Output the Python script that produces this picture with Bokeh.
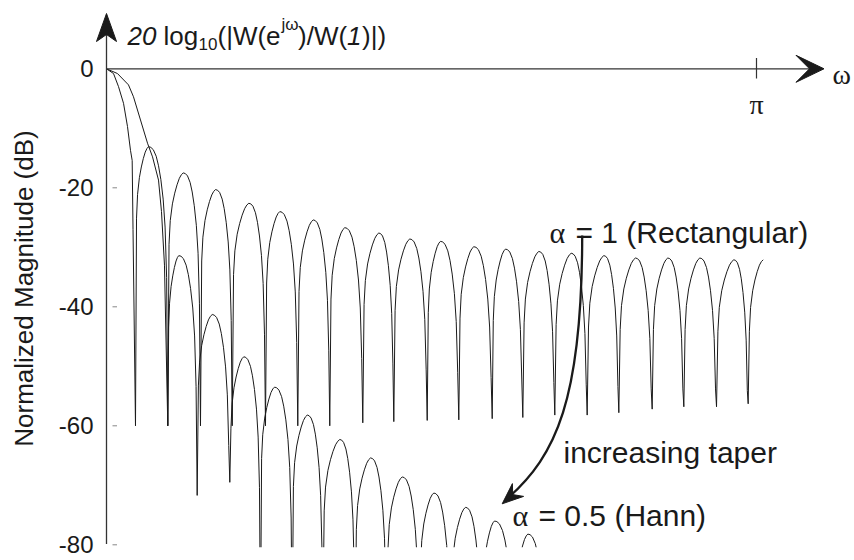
import math
from bokeh.plotting import figure
from bokeh.models import Range1d
from bokeh.core.properties import value
from bokeh.embed import file_html
from bokeh.resources import INLINE

# ---------------- data: omega in units of pi, magnitude in dB ----------------
rect_main_w = [0.0, 0.0108, 0.0185, 0.0262, 0.0323, 0.0369, 0.0395, 0.0408]
rect_main_db = [0.0, -0.8, -3.0, -5.8, -9.7, -13.7, -15.4, -27.0]
rect_null_w = [0.0446, 0.0943, 0.1446, 0.1934, 0.2446, 0.2943, 0.3435, 0.3943, 0.4420, 0.4934,
               0.5420, 0.5934, 0.6405, 0.6897, 0.7395, 0.7882, 0.8395, 0.8882, 0.9385, 0.9872]
rect_null_db = [-60.0, -60.0, -60.0, -60.0, -60.0, -60.0, -60.0, -59.5, -59.3, -59.1,
                -59.0, -58.8, -58.6, -58.2, -58.2, -57.8, -57.2, -56.8, -56.8, -56.3]
rect_peak_w = [0.0646, 0.1180, 0.1677, 0.2189, 0.2666, 0.3180, 0.3666, 0.4189, 0.4666, 0.5138,
               0.5651, 0.6138, 0.6651, 0.7149, 0.7651, 0.8138, 0.8635, 0.9128, 0.9651]
rect_peak_db = [-13.1, -17.5, -20.3, -22.6, -24.0, -25.4, -26.7, -27.6, -28.6, -29.0,
                -29.9, -30.3, -30.7, -31.0, -31.4, -31.8, -31.8, -31.8, -32.1]
rect_end_w = 1.0103
rect_end_db = -32.1

hann_main_w = [0.0, 0.0169, 0.0338, 0.0415, 0.0523, 0.0631, 0.0708, 0.0800, 0.0846, 0.0892]
hann_main_db = [0.0, -0.8, -2.7, -4.7, -8.6, -12.5, -14.8, -18.7, -24.0, -33.0]
hann_null_w = [0.0943, 0.1395, 0.1897, 0.2369, 0.2857, 0.3328, 0.3825, 0.4312, 0.4815, 0.5297,
               0.5774, 0.6277, 0.6769]
hann_null_db = [-60.0, -71.7, -69.5, -95.0, -95.0, -95.0, -95.0, -95.0, -95.0, -95.0,
                -95.0, -95.0, -95.0]
hann_peak_w = [0.1112, 0.1626, 0.2112, 0.2585, 0.3088, 0.3589, 0.4062, 0.4549, 0.5035, 0.5523,
               0.5969, 0.6482]
hann_peak_db = [-31.4, -41.3, -48.4, -53.5, -58.2, -62.3, -65.4, -68.6, -71.3, -73.7,
                -76.0, -78.2]

# shape of one side lobe (fraction of null->peak / peak->null, dB below peak)
lobe_rise_t = [0.08, 0.16, 0.30, 0.45, 0.60, 0.75, 0.88, 1.0]
lobe_rise_drop = [-12.0, -8.0, -5.2, -3.4, -2.0, -0.9, -0.3, 0.0]
lobe_fall_t = [0.12, 0.25, 0.40, 0.52, 0.64, 0.76, 0.86, 0.94]
lobe_fall_drop = [-0.1, -0.5, -1.6, -3.2, -5.5, -8.8, -13.5, -22.0]

y_ticks = [-80, -60, -40, -20, 0]
y_tick_labels = ["-80", "-60", "-40", "-20", "0"]


def build_curve(main_w, main_db, null_w, null_db, peak_w, peak_db, end=None):
    xs, ys = list(main_w), list(main_db)
    for i in range(len(peak_w)):
        xl, dl, xp, dp = null_w[i], null_db[i], peak_w[i], peak_db[i]
        xs.append(xl); ys.append(dl)
        for t, d in zip(lobe_rise_t, lobe_rise_drop):
            xs.append(xl + t * (xp - xl)); ys.append(max(dp + d, dl))
        if i + 1 < len(null_w):
            xr, dr = null_w[i + 1], null_db[i + 1]
            for t, d in zip(lobe_fall_t, lobe_fall_drop):
                xs.append(xp + t * (xr - xp)); ys.append(max(dp + d, dr))
    if len(null_w) > len(peak_w):
        xl, dl = null_w[-1], null_db[-1]
        xs.append(xl); ys.append(dl)
        if end is not None:
            xp, dp = end
            for t, d in zip(lobe_rise_t, lobe_rise_drop):
                xs.append(xl + t * (xp - xl)); ys.append(max(dp + d, dl))
    return xs, ys


rect_x, rect_y = build_curve(rect_main_w, rect_main_db, rect_null_w, rect_null_db,
                             rect_peak_w, rect_peak_db, end=(rect_end_w, rect_end_db))
hann_x, hann_y = build_curve(hann_main_w, hann_main_db, hann_null_w, hann_null_db,
                             hann_peak_w, hann_peak_db)

# ---------------- layout helpers (pixel -> data) ----------------
W, H = 854, 560
X0, SX = 106.0, 650.0
Y0, SY = 68.3, 5.95


def wx(px):
    return (px - X0) / SX


def dby(py):
    return (Y0 - py) / SY


SANS = value("Liberation Sans")
SERIF = value("Liberation Serif")
INK = "#1a1a1a"

p = figure(width=W, height=H, x_range=Range1d(wx(0), wx(W)), y_range=Range1d(dby(H), dby(0)),
           output_backend="svg", toolbar_location=None, x_axis_type=None, y_axis_type=None,
           min_border=0, outline_line_color=None,
           background_fill_color="white", border_fill_color="white")

# curves
p.line(rect_x, rect_y, line_color=INK, line_width=1.0)
p.line(hann_x, hann_y, line_color=INK, line_width=1.0)

# clip of the plotting area at the bottom
p.quad(left=wx(122), right=wx(W), bottom=dby(H), top=dby(546.8),
       fill_color="white", line_color=None)

# axes
p.line([0, 0], [dby(543.5), dby(32)], line_color="#333333", line_width=1.3)
p.line([0, wx(812)], [0, 0], line_color="#333333", line_width=1.3)
p.patch([wx(106), wx(96), wx(106), wx(116)], [dby(13), dby(41), dby(34), dby(41)],
        fill_color=INK, line_color=INK, line_width=1)
p.patch([wx(823.5), wx(795.5), wx(809), wx(795.5)],
        [dby(68.3), dby(54.8), dby(68.3), dby(81.8)],
        fill_color=INK, line_color=INK, line_width=1)

# y ticks (small dashes) and labels
p.segment(x0=[wx(112)] * 4, x1=[wx(116.5)] * 4, y0=y_ticks[:4], y1=y_ticks[:4],
          line_color="#888888", line_width=1)
p.text(x=[wx(93)] * 5, y=y_ticks, text=y_tick_labels, text_font=SANS, text_font_size="24px",
       text_align="right", text_baseline="middle", text_color=INK)

# pi tick and labels
p.segment(x0=[1.0], x1=[1.0], y0=[dby(57.5)], y1=[dby(78)], line_color="#333333", line_width=1.2)
p.text(x=[1.0], y=[dby(104)], text=["π"], text_font=SERIF, text_font_size="28px",
       text_align="center", text_baseline="alphabetic", text_color=INK)
p.text(x=[wx(832)], y=[dby(73.5)], text=["ω"], text_font=SERIF, text_font_size="28px",
       text_align="left", text_baseline="alphabetic", text_color=INK)

# y-axis title
p.text(x=[wx(23)], y=[dby(288)], text=["Normalized Magnitude (dB)"], angle=math.pi / 2,
       text_font=SANS, text_font_size="26px", text_align="center", text_baseline="middle",
       text_color=INK)

# axis formula: 20 log10(|W(e^jw)/W(1)|)
base = dby(35)
pieces = [
    (127.0, base, "20", "26px", "italic"),
    (163.0, base, "log", "26px", "normal"),
    (198.0, dby(43), "10", "17px", "normal"),
    (217.0, base, "(|W(e", "26px", "normal"),
    (281.0, dby(24), "jω", "17px", "normal"),
    (297.5, base, ")/W(", "26px", "normal"),
    (346.5, base, "1", "26px", "italic"),
    (361.5, base, ")|)", "26px", "normal"),
]
for px, y, t, fs, st in pieces:
    p.text(x=[wx(px)], y=[y], text=[t], text_font=SANS, text_font_size=fs,
           text_font_style=st, text_align="left", text_baseline="alphabetic", text_color=INK)

# annotations
p.text(x=[wx(549)], y=[dby(232)], text=["α"], text_font=SERIF, text_font_size="30px",
       text_align="left", text_baseline="alphabetic", text_color=INK)
p.text(x=[wx(575)], y=[dby(232)], text=["= 1 (Rectangular)"], text_font=SANS,
       text_font_size="30px", text_align="left", text_baseline="alphabetic", text_color=INK)
p.text(x=[wx(563)], y=[dby(452)], text=["increasing taper"], text_font=SANS,
       text_font_size="30px", text_align="left", text_baseline="alphabetic", text_color=INK)
p.text(x=[wx(512)], y=[dby(515)], text=["α"], text_font=SERIF, text_font_size="30px",
       text_align="left", text_baseline="alphabetic", text_color=INK)
p.text(x=[wx(538)], y=[dby(515)], text=["= 0.5 (Hann)"], text_font=SANS,
       text_font_size="30px", text_align="left", text_baseline="alphabetic", text_color=INK)

# curved arrow
p.bezier(x0=[wx(581.7)], y0=[dby(235)], x1=[wx(508)], y1=[dby(497)],
         cx0=[wx(581.7)], cy0=[dby(400)], cx1=[wx(555)], cy1=[dby(455)],
         line_color=INK, line_width=2.3)
p.patch([wx(501.7), wx(523.1), wx(512.2), wx(511.9)],
        [dby(503.3), dby(495.9), dby(494.1), dby(483.1)],
        fill_color=INK, line_color=INK, line_width=1)

open("out.html", "w").write(file_html(p, INLINE))
